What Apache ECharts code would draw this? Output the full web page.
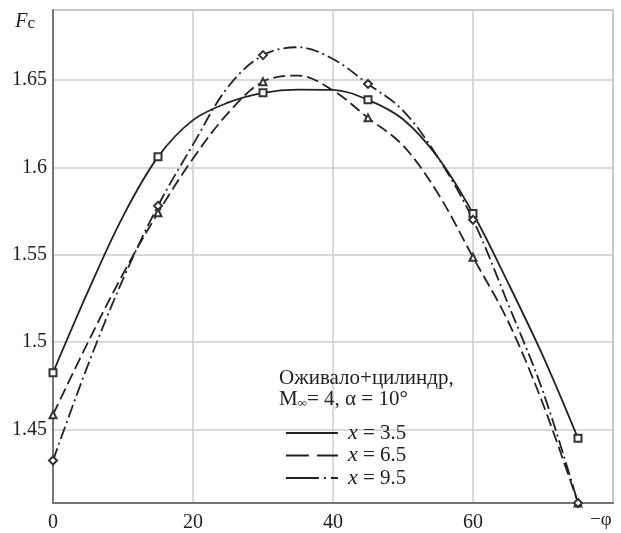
<!DOCTYPE html>
<html>
<head>
<meta charset="utf-8">
<script src="https://cdn.jsdelivr.net/npm/echarts@6/dist/echarts.min.js"></script>
<style>html,body{margin:0;padding:0;background:#fff}#c{width:621px;height:533px}</style>
</head>
<body>
<div id="c"></div>
<script>
const phi = [0, 5, 10, 15, 20, 25, 30, 35, 40, 45, 50, 55, 60, 65, 70, 75];
const fc35 = [1.4825, 1.529, 1.572, 1.606, 1.627, 1.637, 1.6426, 1.6445, 1.6443, 1.6386, 1.6275, 1.6056, 1.5736, 1.534, 1.492, 1.445];
const fc65 = [1.4585, 1.50, 1.539, 1.574, 1.605, 1.631, 1.649, 1.6525, 1.644, 1.6283, 1.6125, 1.585, 1.5486, 1.512, 1.4646, 1.408];
const fc95 = [1.4323, 1.487, 1.536, 1.578, 1.613, 1.646, 1.6642, 1.6687, 1.662, 1.6477, 1.6325, 1.6056, 1.570, 1.522, 1.4717, 1.408];
const seriesNames = ['x = 3.5', 'x = 6.5', 'x = 9.5'];
const markerPhi = [0, 15, 30, 45, 60, 75];
const xTicks = [0, 20, 40, 60];
const yTicks = [1.45, 1.5, 1.55, 1.6, 1.65];

const FONT = '"Liberation Serif", "DejaVu Serif", serif';
const INK = '#222';
const pairs = arr => phi.map((p, i) => [p, arr[i]]);
const sym = shape => (v => markerPhi.indexOf(v[0]) >= 0 ? shape : 'none');

function mkSeries(name, arr, shape, type) {
  return {
    name: name, type: 'line', data: pairs(arr), smooth: 0.35,
    symbol: sym(shape), symbolSize: shape === 'emptyDiamond' ? 8 : 7,
    itemStyle: { color: '#333', borderWidth: 1 },
    lineStyle: { color: INK, width: 1.8, type: type },
    z: 3
  };
}

const chart = echarts.init(document.getElementById('c'));
chart.setOption({
  animation: false,
  backgroundColor: '#fff',
  grid: { left: 53, right: 8, top: 10, bottom: 29, show: true, borderColor: '#aaa', borderWidth: 1.5 },
  title: {
    left: 274, top: 363,
    text: '{a|Оживало+цилиндр,}\n{a|M}{s|∞}{a|= 4, α = 10°}',
    textStyle: {
      fontWeight: 'normal',
      rich: {
        a: { fontFamily: FONT, fontSize: 21, fontWeight: 'normal', color: INK, lineHeight: 21 },
        s: { fontFamily: FONT, fontSize: 13, fontWeight: 'normal', color: INK, lineHeight: 21, verticalAlign: 'bottom', padding: [6, 0, 0, 0] }
      }
    }
  },
  legend: {
    orient: 'vertical', left: 280, top: 417, itemWidth: 52, itemHeight: 14, itemGap: 0.5,
    itemStyle: { opacity: 0 },
    formatter: n => '{i|x}' + n.slice(1),
    textStyle: {
      fontFamily: FONT, fontSize: 21, color: INK, padding: [0, 0, 0, 5], lineHeight: 20,
      rich: { i: { fontFamily: FONT, fontSize: 22, fontStyle: 'italic', color: INK, lineHeight: 20 } }
    },
    data: [
      { name: seriesNames[0], lineStyle: { type: 'solid', width: 1.8, color: INK } },
      { name: seriesNames[1], lineStyle: { type: [23, 8], width: 1.8, color: INK } },
      { name: seriesNames[2], lineStyle: { type: [33, 5, 2, 5, 8, 100], width: 1.8, color: INK } }
    ]
  },
  xAxis: {
    type: 'value', min: 0, max: 80, interval: 20,
    name: '−φ', nameLocation: 'end', nameGap: -23,
    nameTextStyle: { fontFamily: FONT, fontSize: 19, color: INK, align: 'left', verticalAlign: 'top', padding: [8, 0, 0, 0] },
    axisLine: { lineStyle: { color: '#777', width: 2 } },
    axisTick: { show: false },
    axisLabel: {
      fontFamily: FONT, fontSize: 20, color: INK, margin: 10,
      showMaxLabel: false,
      formatter: v => xTicks.indexOf(v) >= 0 ? String(v) : ''
    },
    splitLine: { show: true, lineStyle: { color: '#ccc', width: 1.5 } }
  },
  yAxis: {
    type: 'value', min: 1.408, max: 1.69, splitNumber: 5,
    name: '{f|F}{c|c}', nameLocation: 'end', nameGap: -22,
    nameTextStyle: {
      align: 'right', verticalAlign: 'bottom', padding: [0, 18, 0, 0],
      rich: {
        f: { fontFamily: FONT, fontSize: 20, fontStyle: 'italic', color: INK },
        c: { fontFamily: FONT, fontSize: 17, color: INK, padding: [4, 0, 0, 0] }
      }
    },
    axisLine: { show: true, lineStyle: { color: '#777', width: 2 } },
    axisTick: { show: false },
    axisLabel: {
      fontFamily: FONT, fontSize: 20, color: INK, margin: 6,
      showMinLabel: false, showMaxLabel: false,
      formatter: v => {
        const t = yTicks.find(k => Math.abs(k - v) < 1e-6);
        return t === undefined ? '' : String(t);
      }
    },
    splitLine: { show: true, lineStyle: { color: '#ccc', width: 1.5 } }
  },
  series: [
    mkSeries(seriesNames[0], fc35, 'emptyRect', 'solid'),
    mkSeries(seriesNames[1], fc65, 'emptyTriangle', [12, 5]),
    mkSeries(seriesNames[2], fc95, 'emptyDiamond', [13, 4, 2, 4])
  ]
});
</script>
</body>
</html>
